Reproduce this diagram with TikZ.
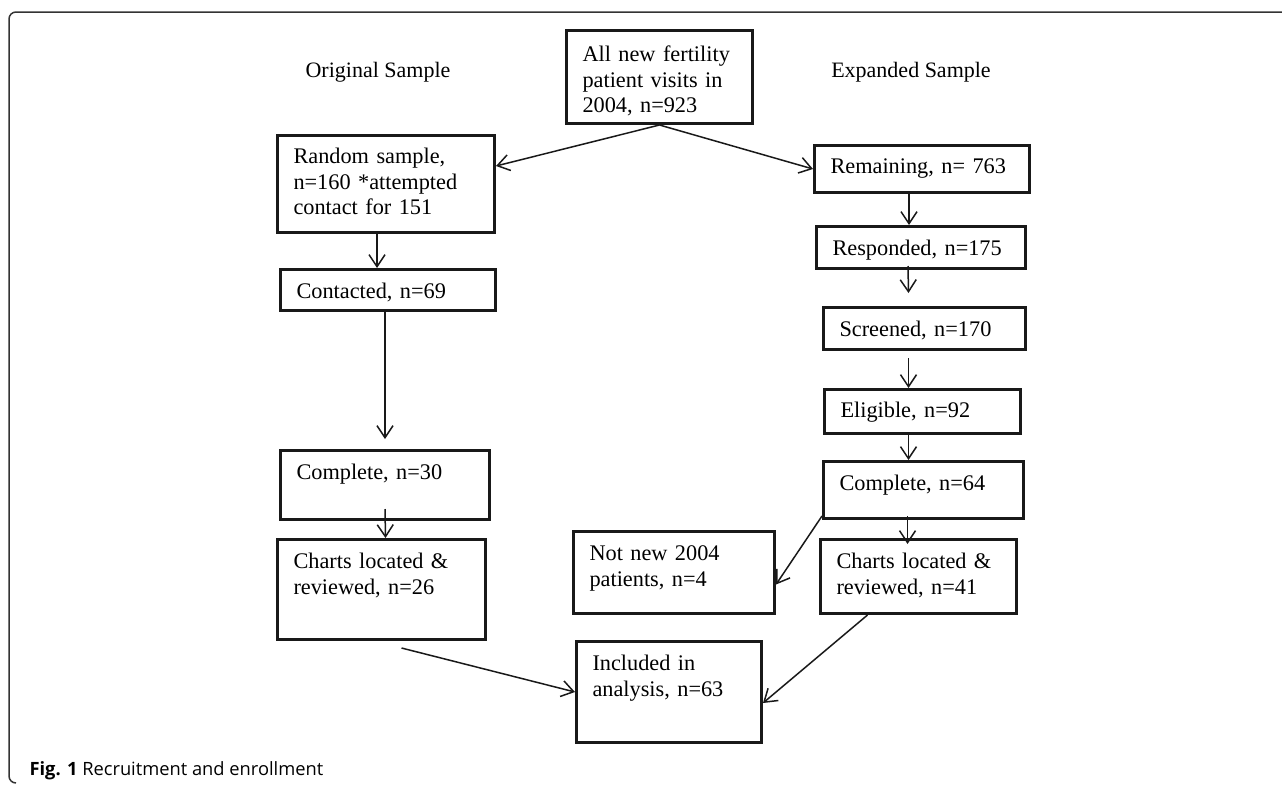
\documentclass[tikz,border=0pt]{standalone}
\usepackage{fontspec}
\setmainfont{Liberation Serif}
\newfontfamily\capfont{Open Sans}
\usepackage{tikz}
\usetikzlibrary{arrows.meta,positioning}

\tikzset{
	box/.style={draw=black!90, line width=3pt, anchor=north west, align=left, inner xsep=16pt, inner ysep=0pt, font=\fontsize{22.3}{25.5}\selectfont},
	heading/.style={font=\fontsize{22}{25.5}\selectfont},
	flow/.style={line width=1.5pt, black!90, -{Straight Barb[length=12pt,width=16pt]}}
}

\begin{document}
\begin{tikzpicture}[x=1pt,y=-1pt]
		\useasboundingbox (0,0) rectangle (1282,785);
		\draw[line width=1.5pt, black!80, rounded corners=7pt] (1282,12) -| (9,783) -- (16,783);

		\draw (378,72) node[heading] (orig) {Original Sample};
		\draw (911,72) node[heading] (exp) {Expanded Sample};

		\draw (565,29) node[box, text width=154pt, text height=31pt, text depth=62pt] (all) {All new fertility\\patient visits in\\2004, n=923};

		\draw (276,134) node[box, text width=185pt, text height=28pt, text depth=69pt] (random) {Random sample,\\n=160 *attempted\\contact for 151};
		\draw (279,268) node[box, text width=183pt, text height=29pt, text depth=12pt] (contacted) {Contacted, n=69};
		\draw (279,449) node[box, text width=177pt, text height=29pt, text depth=40pt] (complete30) {Complete, n=30};
		\draw (276,538) node[box, text width=176pt, text height=29pt, text depth=71pt] (charts26) {Charts located \&\\reviewed, n=26};

		\draw (813,144) node[box, text width=183pt, text height=28pt, text depth=19pt] (remaining) {Remaining, n= 763};
		\draw (815,225) node[box, text width=177pt, text height=29pt, text depth=13pt] (responded) {Responded, n=175};
		\draw (822,306) node[box, text width=170pt, text height=29pt, text depth=13pt] (screened) {Screened, n=170};
		\draw (823,388) node[box, text width=164pt, text height=28pt, text depth=16pt] (eligible) {Eligible, n=92};
		\draw (822,460) node[box, text width=168pt, text height=29pt, text depth=28pt] (complete64) {Complete, n=64};
		\draw (819,538) node[box, text width=164pt, text height=29pt, text depth=45pt] (charts41) {Charts located \&\\reviewed, n=41};
		\draw (572,530) node[box, text width=169pt, text height=29pt, text depth=53pt] (notnew) {Not new 2004\\patients, n=4};

		\draw (575,640) node[box, text width=153pt, text height=29pt, text depth=72pt] (included) {Included in\\analysis, n=63};

		\draw (26,775) node[anchor=base west, font=\capfont\fontsize{18.3}{20}\selectfont] (caption) {\textbf{Fig. 1} Recruitment and enrollment};

		\path[flow]
			(all.south)									edge	([yshift=18pt]random.east)
			(all.south)									edge	(remaining.west)
			([xshift=-9pt]random.south)					edge	([xshift=-11pt]contacted.north)
			([xshift=-3pt]contacted.south)				edge	([yshift=10pt]complete30.north)
			([yshift=12pt]complete30.south)				edge	([xshift=4pt]charts26.north)
			([xshift=20pt,yshift=-7pt]charts26.south)	edge	(included.west)
			([xshift=-13pt]remaining.south)				edge	([xshift=-12pt]responded.north)
			([xshift=-13pt,yshift=4pt]responded.south)	edge	([xshift=-16pt,yshift=13pt]screened.north)
			([xshift=-16pt,yshift=-7pt]screened.south)	edge	([xshift=-14pt]eligible.north)
			([xshift=-14pt]eligible.south)				edge	([xshift=-15pt]complete64.north)
			([xshift=-16pt,yshift=4pt]complete64.south)	edge	([xshift=-11pt,yshift=-6pt]charts41.north)
			([yshift=4pt]complete64.south west)			edge	([yshift=-12pt]notnew.east)
			([xshift=-51pt]charts41.south)				edge	([yshift=-11pt]included.east);
\end{tikzpicture}
\end{document}
